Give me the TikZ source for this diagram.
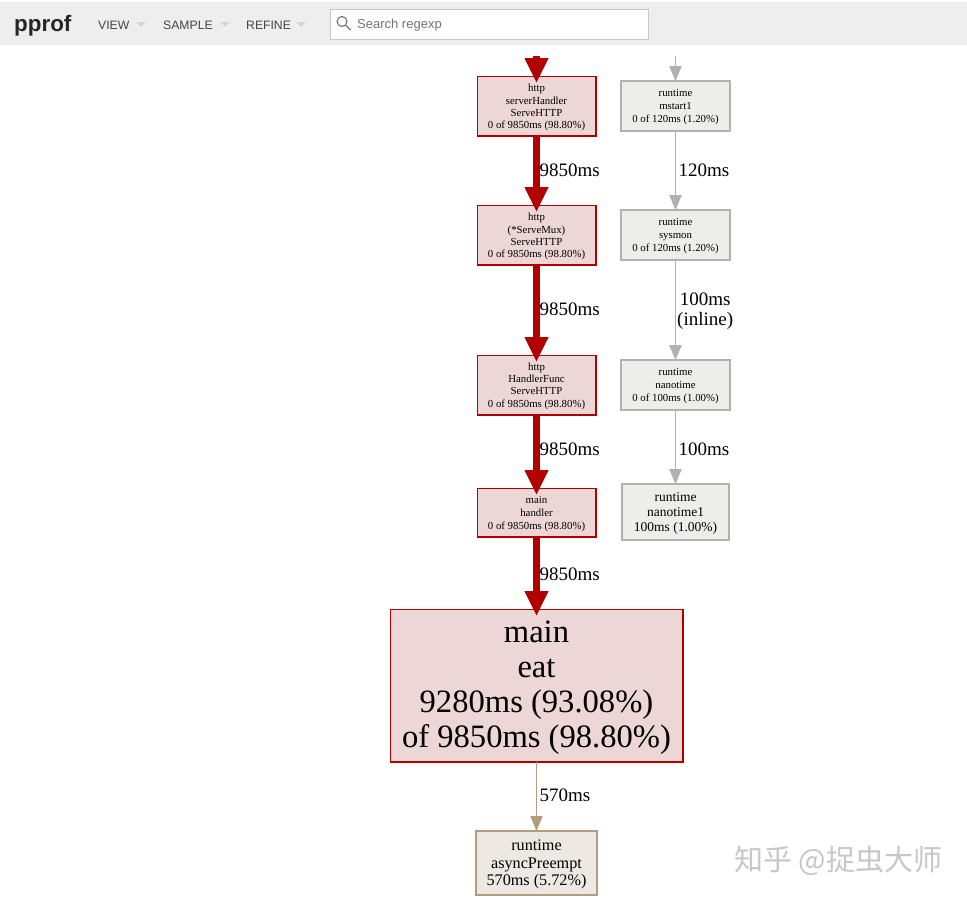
\documentclass[tikz,border=0pt]{standalone}
\usepackage{fontspec}
\setmainfont{Liberation Serif}
\newfontfamily\uifont{Liberation Sans}
\newfontfamily\cjkfont{Noto Sans CJK SC}
\usetikzlibrary{arrows.meta}
\definecolor{hotline}{HTML}{B20000}
\definecolor{hotfill}{HTML}{EDD6D6}
\definecolor{coolline}{HTML}{B2B2AC}
\definecolor{coolfill}{HTML}{EDEDEC}
\definecolor{tanline}{HTML}{B29D7F}
\definecolor{tanfill}{HTML}{EDE8E2}
\definecolor{barfill}{HTML}{EEEEEE}
\definecolor{uitext}{HTML}{444444}
\definecolor{caret}{HTML}{D4D4D4}
\tikzset{
  x=1pt,y=-1pt,
  box/.style={draw,rectangle,inner sep=0pt,outer sep=0pt,align=center,line width=1.4pt},
  hot/.style={box,draw=hotline,fill=hotfill},
  cool/.style={box,draw=coolline,fill=coolfill,line width=1.6pt},
  tan/.style={box,draw=tanline,fill=tanfill,line width=1.6pt},
  small/.style={font=\fontsize{10.8}{12.3}\selectfont},
  smallr/.style={font=\fontsize{10.8}{13}\selectfont},
  hotedge/.style={draw=hotline,line width=7pt,-{Triangle[length=25pt,width=22pt,fill=hotline]},shorten >=-7pt},
  cooledge/.style={draw=coolline,line width=1.8pt,-{Triangle[length=15pt,width=12pt,fill=coolline]}},
  tanedge/.style={draw=tanline,line width=1.5pt,-{Triangle[length=15pt,width=12pt,fill=tanline]}},
  elabel/.style={inner sep=0pt,anchor=west,font=\fontsize{19}{20.5}\selectfont},
  menu/.style={inner sep=0pt,anchor=west,text=uitext,font=\uifont\fontsize{12.2}{14}\selectfont},
}
\newcommand{\caretat}[2]{\fill[caret] (#1,#2) -- ++(10,0) -- ++(-5,4.5) -- cycle;}
\newcommand{\toppad}[1]{\rule{0pt}{#1pt}}
\begin{document}
\begin{tikzpicture}
\useasboundingbox (0,0) rectangle (967,900);
\fill[white] (0,0) rectangle (967,900);
% toolbar
\fill[barfill] (0,2) rectangle (967,45);
\node[inner sep=0pt,anchor=west,text=black!85,font=\uifont\bfseries\fontsize{22.4}{24}\selectfont] (logo) at (14,26) {pprof};
\node[menu] (view) at (98,25) {VIEW};
\caretat{136}{22}
\node[menu] (sample) at (163,25) {SAMPLE};
\caretat{220}{22}
\node[menu] (refine) at (246,25) {REFINE};
\caretat{296}{22}
\node[draw=black!22,fill=white,line width=0.8pt,inner sep=0pt,minimum width=318pt,minimum height=30pt,outer sep=0pt] (search) at (489,24) {};
\node[inner sep=0pt,anchor=west,text=black!55,font=\uifont\fontsize{13}{15}\selectfont] (searchtext) at (357,25.5) {Search regexp};
\draw[black!55,line width=1.1pt] (342,21.5) circle (5pt);
\draw[black!55,line width=1.4pt] (345.8,25.3) -- (350.5,30);
% nodes
\node[hot,small,minimum width=118.6pt,minimum height=59.6pt] (A) at (536.5,106) {\toppad{10.6}http\\serverHandler\\ServeHTTP\\0 of 9850ms (98.80\%)};
\node[hot,small,minimum width=118.6pt,minimum height=59.6pt] (B) at (536.5,235) {\toppad{10.6}http\\(*ServeMux)\\ServeHTTP\\0 of 9850ms (98.80\%)};
\node[hot,small,minimum width=118.6pt,minimum height=59.6pt] (C) at (536.5,385) {\toppad{9.6}http\\HandlerFunc\\ServeHTTP\\0 of 9850ms (98.80\%)};
\node[hot,smallr,minimum width=118.6pt,minimum height=48.6pt] (D) at (536.5,512.5) {\toppad{9.5}main\\handler\\0 of 9850ms (98.80\%)};
\node[hot,minimum width=292.6pt,minimum height=152.6pt,font=\fontsize{32.6}{35}\selectfont] (E) at (536.5,685.5) {\toppad{26.5}main\\eat\\9280ms (93.08\%)\\of 9850ms (98.80\%)};
\node[tan,minimum width=120.6pt,minimum height=63.6pt,font=\fontsize{16.2}{17.5}\selectfont] (F) at (536.5,863) {\toppad{14.3}runtime\\asyncPreempt\\570ms (5.72\%)};
\node[cool,smallr,minimum width=108.6pt,minimum height=49.6pt] (R1) at (675.5,106) {\toppad{9.6}runtime\\mstart1\\0 of 120ms (1.20\%)};
\node[cool,smallr,minimum width=108.6pt,minimum height=49.6pt] (R2) at (675.5,235) {\toppad{9.6}runtime\\sysmon\\0 of 120ms (1.20\%)};
\node[cool,smallr,minimum width=108.6pt,minimum height=49.6pt] (R3) at (675.5,385) {\toppad{9.6}runtime\\nanotime\\0 of 100ms (1.00\%)};
\node[cool,minimum width=106.6pt,minimum height=55.6pt,font=\fontsize{13.5}{15}\selectfont] (R4) at (675.5,512) {\toppad{11}runtime\\nanotime1\\100ms (1.00\%)};
% free ends
\coordinate (Atop) at (536.5,56);
\coordinate (Rtop) at (675.5,56);
% connectors
\draw[hotedge] (Atop) -- (A.north);
\draw[hotedge] (A.south) -- (B.north);
\draw[hotedge] (B.south) -- (C.north);
\draw[hotedge] (C.south) -- (D.north);
\draw[hotedge] (D.south) -- (E.north);
\draw[tanedge] (E.south) -- (F.north);
\draw[cooledge] (Rtop) -- (R1.north);
\draw[cooledge] (R1.south) -- (R2.north);
\draw[cooledge] (R2.south) -- (R3.north);
\draw[cooledge] (R3.south) -- (R4.north);
% labels
\node[elabel] (l1) at (539.5,170) {9850ms};
\node[elabel] (l2) at (539.5,309) {9850ms};
\node[elabel] (l3) at (539.5,449) {9850ms};
\node[elabel] (l4) at (539.5,574) {9850ms};
\node[elabel] (l5) at (539.5,795) {570ms};
\node[elabel] (l6) at (678.5,170) {120ms};
\node[elabel,align=center] (l7) at (677,311) {100ms\\(inline)};
\node[elabel] (l8) at (678.5,449) {100ms};
% watermark
\node[inner sep=0pt,anchor=west,text=black!22,font=\cjkfont\fontsize{29}{32}\selectfont] (mark) at (734,861) {知乎 @捉虫大师};
\end{tikzpicture}
\end{document}
